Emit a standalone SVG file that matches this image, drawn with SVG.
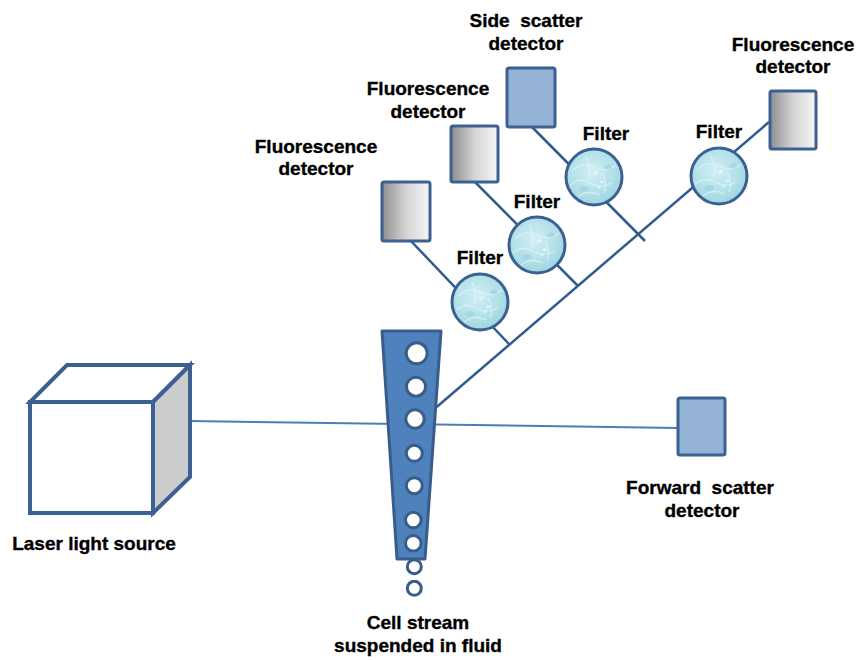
<svg xmlns="http://www.w3.org/2000/svg" width="859" height="660" viewBox="0 0 859 660">
  <style>
    .lbl { font-family: "Liberation Sans", Arial, sans-serif; font-weight: bold; font-size: 19px; fill: #000; stroke: #000; stroke-width: 0.35; text-anchor: middle; }
    .beam { stroke: #4a7ebb; stroke-width: 2; fill: none; }
    .path { stroke: #2f5b8e; stroke-width: 2.5; fill: none; }
    .det { stroke: #3b6192; stroke-width: 3; }
    .grad { fill: url(#detGrad); }
    .blue { fill: #95b3d7; }
    .filter { fill: url(#filterFill); stroke: #3b6192; stroke-width: 3; }
    .cell { fill: #fff; stroke: #385d8a; stroke-width: 3; }
  </style>
  <defs>
    <linearGradient id="detGrad" x1="0" y1="0" x2="1" y2="0">
      <stop offset="0" stop-color="#8e8e8e"/>
      <stop offset="0.5" stop-color="#d4d4d4"/>
      <stop offset="1" stop-color="#f6f6f6"/>
    </linearGradient>
    <radialGradient id="filterBase" cx="0.45" cy="0.4" r="0.65">
      <stop offset="0" stop-color="#d3eff4"/>
      <stop offset="0.6" stop-color="#b2e0e9"/>
      <stop offset="1" stop-color="#9bd3df"/>
    </radialGradient>
    <pattern id="filterFill" patternUnits="objectBoundingBox" width="1" height="1" viewBox="0 0 56 56">
      <rect width="56" height="56" fill="url(#filterBase)"/>
      <g fill="none" stroke="#e6f7fa" stroke-width="1.2" opacity="0.7">
        <path d="M6 22 Q16 12 28 18 T50 16"/>
        <path d="M4 36 Q14 28 24 34 T46 34"/>
        <path d="M12 48 Q22 40 34 46"/>
        <path d="M20 8 Q26 20 22 30"/>
        <path d="M36 24 Q42 34 38 44"/>
      </g>
      <g fill="#e8f8fb" opacity="0.8">
        <ellipse cx="30" cy="24" rx="3" ry="1.6" transform="rotate(-35 30 24)"/>
        <ellipse cx="36" cy="33" rx="2.2" ry="1.4"/>
        <ellipse cx="33" cy="38" rx="1.6" ry="1.2"/>
      </g>
      <g fill="#8fcad6" opacity="0.45">
        <ellipse cx="18" cy="40" rx="5" ry="3"/>
        <ellipse cx="42" cy="18" rx="4" ry="2.5"/>
      </g>
    </pattern>
  </defs>

  <!-- light paths -->
  <g id="connectors">
    <line class="beam" x1="190" y1="421" x2="678" y2="428"/>
    <line class="path" x1="432" y1="411" x2="769" y2="122"/>
    <line class="path" x1="532" y1="127" x2="645" y2="241"/>
    <line class="path" x1="475" y1="182" x2="578" y2="286"/>
    <line class="path" x1="410" y1="240" x2="509" y2="344"/>
  </g>

  <!-- laser source cube -->
  <g id="laser">
    <g stroke="#3b6192" stroke-width="4" stroke-linejoin="miter">
      <polygon points="30,402 67,365 190,365 153,402" fill="#fff"/>
      <polygon points="153,402 190,365 190,477 153,513" fill="#cccccc"/>
      <rect x="30" y="402" width="123" height="111" fill="#fff"/>
    </g>
    <text class="lbl" x="94" y="550">Laser light source</text>
  </g>

  <!-- flow cell with cells -->
  <g id="cell-stream">
    <polygon points="382,331 441,331 425,559 397,559" fill="#4f81bd" stroke="#385d8a" stroke-width="3" stroke-linejoin="round"/>
    <circle class="cell" cx="416.7" cy="353.3" r="10.5"/>
    <circle class="cell" cx="416" cy="386.7" r="9.5"/>
    <circle class="cell" cx="415" cy="419" r="9.2"/>
    <circle class="cell" cx="414.3" cy="453.3" r="8"/>
    <circle class="cell" cx="414.3" cy="485.7" r="8"/>
    <circle class="cell" cx="413.3" cy="520" r="7.8"/>
    <circle class="cell" cx="413.3" cy="543.3" r="7.8"/>
    <circle class="cell" cx="414.3" cy="566.7" r="7"/>
    <circle class="cell" cx="414.3" cy="588.3" r="7"/>
    <text class="lbl" x="418" y="629">Cell stream</text>
    <text class="lbl" x="418" y="652">suspended in fluid</text>
  </g>

  <!-- forward scatter detector -->
  <g id="forward-scatter">
    <rect class="det blue" x="678" y="398" width="47" height="57" rx="2"/>
    <text class="lbl" x="700" y="494" xml:space="preserve">Forward  scatter</text>
    <text class="lbl" x="702" y="517">detector</text>
  </g>

  <!-- side scatter detector -->
  <g id="side-scatter">
    <rect class="det blue" x="507" y="68" width="48" height="59" rx="2"/>
    <text class="lbl" x="526" y="27" xml:space="preserve">Side  scatter</text>
    <text class="lbl" x="526" y="50">detector</text>
  </g>

  <!-- fluorescence detectors -->
  <g id="fluor-1">
    <rect class="det grad" x="382" y="182" width="48" height="59" rx="2"/>
    <text class="lbl" x="316" y="153">Fluorescence</text>
    <text class="lbl" x="316" y="175">detector</text>
  </g>
  <g id="fluor-2">
    <rect class="det grad" x="451" y="126" width="47" height="56" rx="2"/>
    <text class="lbl" x="428" y="95">Fluorescence</text>
    <text class="lbl" x="428" y="118">detector</text>
  </g>
  <g id="fluor-3">
    <rect class="det grad" x="770" y="91" width="46" height="58" rx="2"/>
    <text class="lbl" x="793" y="51">Fluorescence</text>
    <text class="lbl" x="793" y="73">detector</text>
  </g>

  <!-- filters -->
  <g id="filter-1">
    <circle class="filter" cx="480" cy="302" r="28"/>
    <text class="lbl" x="480" y="264">Filter</text>
  </g>
  <g id="filter-2">
    <circle class="filter" cx="537" cy="245" r="28"/>
    <text class="lbl" x="537" y="208">Filter</text>
  </g>
  <g id="filter-3">
    <circle class="filter" cx="594" cy="177" r="28"/>
    <text class="lbl" x="606" y="140">Filter</text>
  </g>
  <g id="filter-4">
    <circle class="filter" cx="719" cy="176" r="28"/>
    <text class="lbl" x="719" y="138">Filter</text>
  </g>
</svg>
